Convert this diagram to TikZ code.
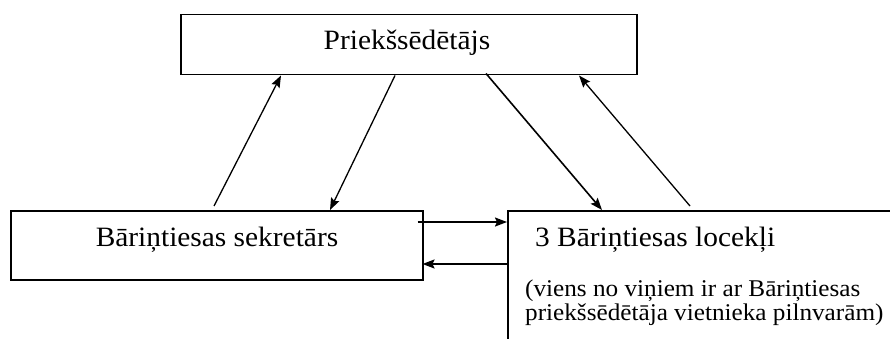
\documentclass[tikz,border=0pt]{standalone}
\usepackage{fontspec}
\setmainfont[FakeStretch=1.05]{Liberation Serif}
\usetikzlibrary{arrows.meta}
\begin{document}
\begin{tikzpicture}[x=1pt,y=-1pt,
  box/.style={draw,line width=1.5pt,rectangle,inner sep=0pt},
  bigtxt/.style={anchor=base,inner sep=0pt,font=\fontsize{28}{32}\selectfont},
  smalltxt/.style={anchor=base west,inner sep=0pt,align=left,font=\fontsize{24}{23.5}\selectfont},
  arr/.style={line width=1.3pt,-{Stealth[length=12pt,width=9pt,inset=2pt]}}]
\useasboundingbox (0,0) rectangle (890,339);
% boxes
\node[box,anchor=north west,minimum width=456pt,minimum height=60pt] (top) at (180,14) {};
\node[box,anchor=north west,minimum width=412pt,minimum height=69pt] (left) at (10,210) {};
\node[box,anchor=north west,minimum width=420pt,minimum height=160pt] (right) at (507,210) {};
% texts
\node[bigtxt] (toptext) at (407,50) {Priekšsēdētājs};
\node[bigtxt] (lefttext) at (217,246) {Bāriņtiesas sekretārs};
\node[bigtxt,anchor=base west] (righttext) at (535,246) {3 Bāriņtiesas locekļi};
\node[smalltxt] (rightnote) at (525,320) {(viens no viņiem ir ar Bāriņtiesas\\priekšsēdētāja vietnieka pilnvarām)};
% arrows
\draw[arr] ([xshift=204pt,yshift=4pt]left.north west) -- ([xshift=101pt]top.south west);
\draw[arr] ([xshift=215pt]top.south west) -- ([xshift=320pt]left.north west);
\draw[arr,line width=1.6pt] ([xshift=306pt,yshift=2pt]top.south west) -- ([xshift=95pt]right.north west);
\draw[arr] ([xshift=183pt,yshift=4pt]right.north west) -- ([xshift=399pt]top.south west);
\draw[arr,line width=1.8pt] ([xshift=-6pt,yshift=-12pt]left.north east) -- ([yshift=-12pt]right.north west);
\draw[arr,line width=1.8pt] ([yshift=-54pt]right.north west) -- ([xshift=-1pt,yshift=-54pt]left.north east);
\end{tikzpicture}
\end{document}
